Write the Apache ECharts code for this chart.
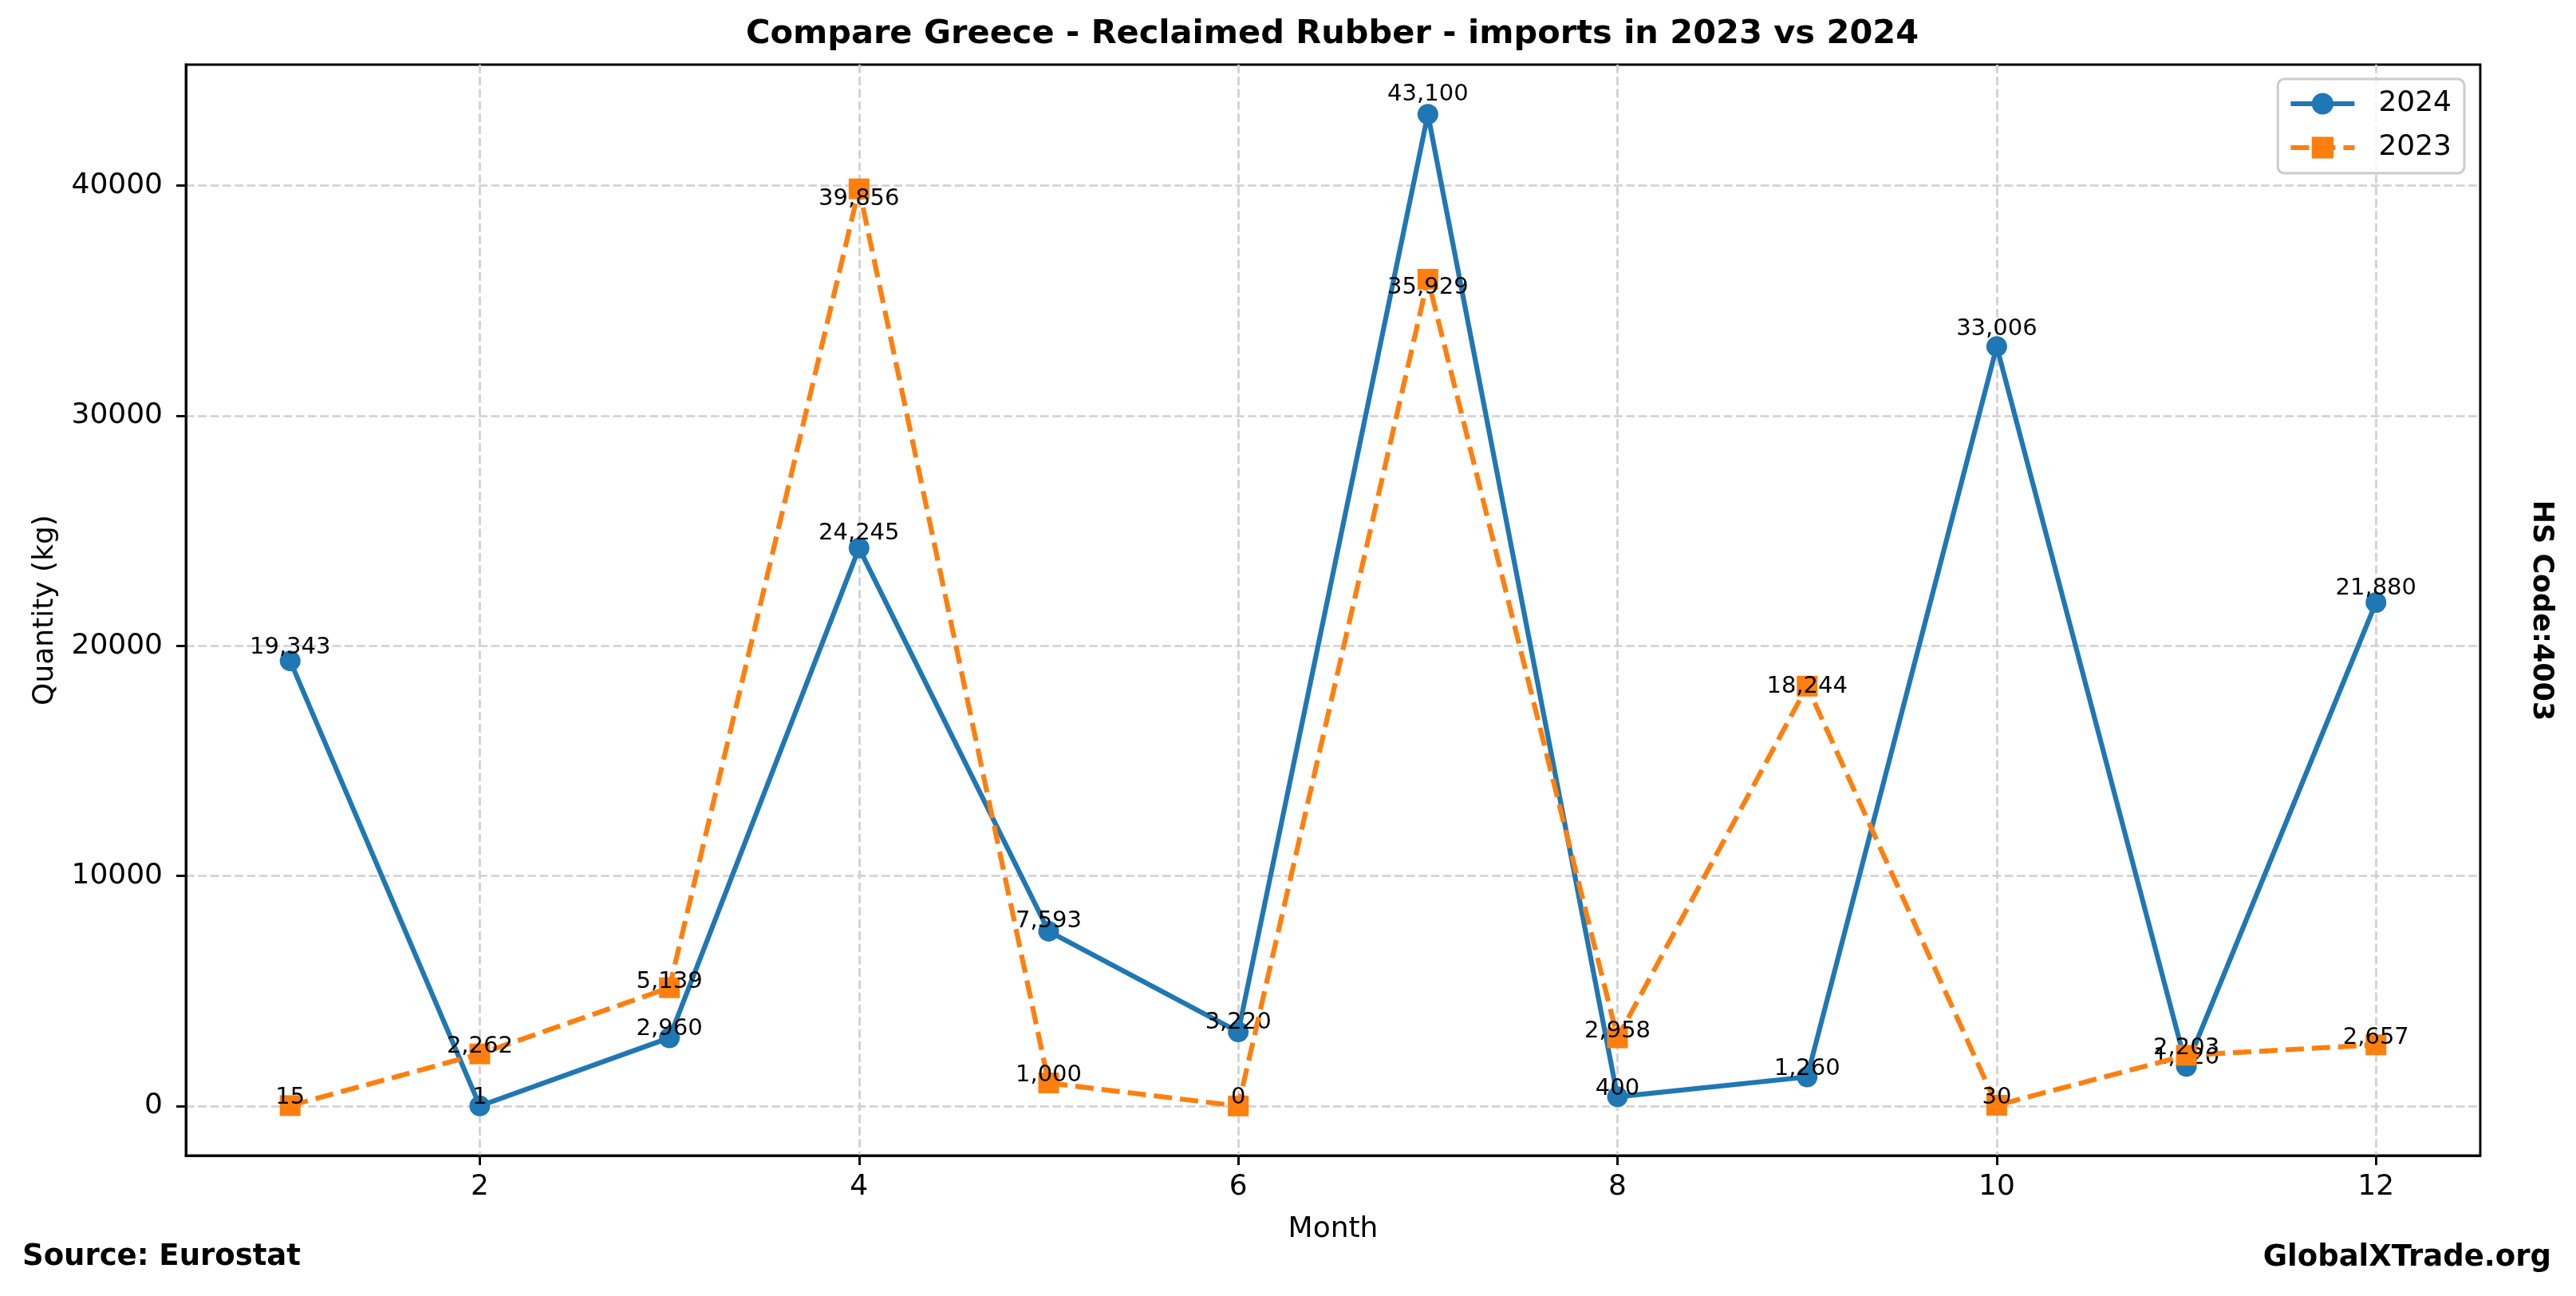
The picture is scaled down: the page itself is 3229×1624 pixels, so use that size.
<!DOCTYPE html>
<html><head><meta charset="utf-8">
<script src="https://cdn.jsdelivr.net/npm/echarts@6/dist/echarts.min.js"></script>
<style>html,body{margin:0;padding:0;background:#fff}#c{width:3229px;height:1624px}</style>
</head><body><div id="c"></div>
<script>
const months = [1,2,3,4,5,6,7,8,9,10,11,12];
const values2024 = [19343,1,2960,24245,7593,3220,43100,400,1260,33006,1720,21880];
const values2023 = [15,2262,5139,39856,1000,0,35929,2958,18244,30,2203,2657];
const xTicks = [2,4,6,8,10,12];
const yTicks = [0,10000,20000,30000,40000];
const titleText = 'Compare Greece - Reclaimed Rubber - imports in 2023 vs 2024';
const sourceText = 'Source: Eurostat';
const siteText = 'GlobalXTrade.org';
const codeText = 'HS Code:4003';

const FONT = 'DejaVu Sans';
const BLUE = '#1f77b4', ORANGE = '#ff7f0e';
const gridLine = {show: true, lineStyle: {color: '#d0d0d0', width: 2.7, type: [10.7, 4.6]}};
const fmt = v => v.toLocaleString('en-US');

const chart = echarts.init(document.getElementById('c'), null, {renderer: 'canvas'});

function seriesData(vals) {
  return vals.map((v, i) => [months[i], v]);
}

const baseLabel = {
  show: true, position: 'inside', verticalAlign: 'bottom', align: 'center',
  color: '#000', fontFamily: FONT, fontSize: 29,
  formatter: p => fmt(p.value[1])
};

const option = {
  animation: false,
  backgroundColor: '#fff',
  textStyle: {fontFamily: FONT},
  grid: {left: 233, right: 120, top: 81, bottom: 176, show: true, borderColor: '#000', borderWidth: 2.9, containLabel: false},
  legend: {
    orient: 'vertical', right: 140, top: 99,
    padding: [13, 16, 14, 13], itemGap: 19, itemWidth: 80, itemHeight: 34,
    borderColor: '#cccccc', borderWidth: 3, borderRadius: 8, backgroundColor: 'rgba(255,255,255,0.8)',
    lineStyle: {width: 6.2},
    textStyle: {fontFamily: FONT, fontSize: 36, color: '#000', padding: [0, 0, 0, 25]},
    data: ['2024', '2023']
  },
  xAxis: {
    type: 'value', min: 0.45, max: 12.55,
    name: 'Month', nameLocation: 'middle', nameGap: 75,
    nameTextStyle: {fontFamily: FONT, fontSize: 36, color: '#000'},
    axisLine: {show: true, onZero: false, lineStyle: {color: '#000', width: 2.9}},
    axisTick: {show: true, length: 12, lineStyle: {color: '#000', width: 2.9}, customValues: xTicks},
    axisLabel: {show: true, margin: 22, fontFamily: FONT, fontSize: 36, color: '#000', customValues: xTicks, formatter: v => String(v)},
    splitLine: Object.assign({customValues: xTicks}, gridLine)
  },
  yAxis: {
    type: 'value', min: -2155, max: 45255,
    name: 'Quantity (kg)', nameLocation: 'middle', nameGap: 158, nameRotate: 90,
    nameTextStyle: {fontFamily: FONT, fontSize: 36, color: '#000'},
    axisLine: {show: true, onZero: false, lineStyle: {color: '#000', width: 2.9}},
    axisTick: {show: true, length: 12, lineStyle: {color: '#000', width: 2.9}, customValues: yTicks},
    axisLabel: {show: true, margin: 29, fontFamily: FONT, fontSize: 36, color: '#000', customValues: yTicks, formatter: v => String(v)},
    splitLine: Object.assign({customValues: yTicks}, gridLine)
  },
  series: [
    {
      name: '2024', type: 'line', data: seriesData(values2024),
      symbol: 'circle', symbolSize: 26,
      lineStyle: {color: BLUE, width: 6.2}, itemStyle: {color: BLUE},
      label: Object.assign({}, baseLabel), z: 3
    },
    {
      name: '2023', type: 'line', data: seriesData(values2023),
      symbol: 'rect', symbolSize: 26,
      lineStyle: {color: ORANGE, width: 6.2, type: [23, 10]}, itemStyle: {color: ORANGE},
      label: Object.assign({}, baseLabel), z: 4
    }
  ],
  graphic: [
    {type: 'text', x: 1670, y: 43, style: {text: titleText, font: 'bold 41.5px "DejaVu Sans"', fill: '#000', align: 'center', verticalAlign: 'middle'}},
    {type: 'text', x: 28, y: 1575, style: {text: sourceText, font: 'bold 37px "DejaVu Sans"', fill: '#000', align: 'left', verticalAlign: 'middle'}},
    {type: 'text', x: 3198, y: 1576, style: {text: siteText, font: 'bold 37px "DejaVu Sans"', fill: '#000', align: 'right', verticalAlign: 'middle'}},
    {type: 'text', x: 3185, y: 765, rotation: -Math.PI / 2, style: {text: codeText, font: 'bold 35px "DejaVu Sans"', fill: '#000', align: 'center', verticalAlign: 'middle'}}
  ]
};
chart.setOption(option);

// place value labels like the reference: 2024 slightly above, 2023 slightly below
function labelled(vals, k) {
  return vals.map((v, i) => {
    const p0 = chart.convertToPixel({gridIndex: 0}, [months[i], v]);
    const p1 = chart.convertToPixel({gridIndex: 0}, [months[i], v * k]);
    return {value: [months[i], v], label: {offset: [0, (p1[1] - p0[1]) + 4.5]}};
  });
}
chart.setOption({series: [
  {name: '2024', data: labelled(values2024, 1.012)},
  {name: '2023', data: labelled(values2023, 0.98)}
]});
</script></body></html>
